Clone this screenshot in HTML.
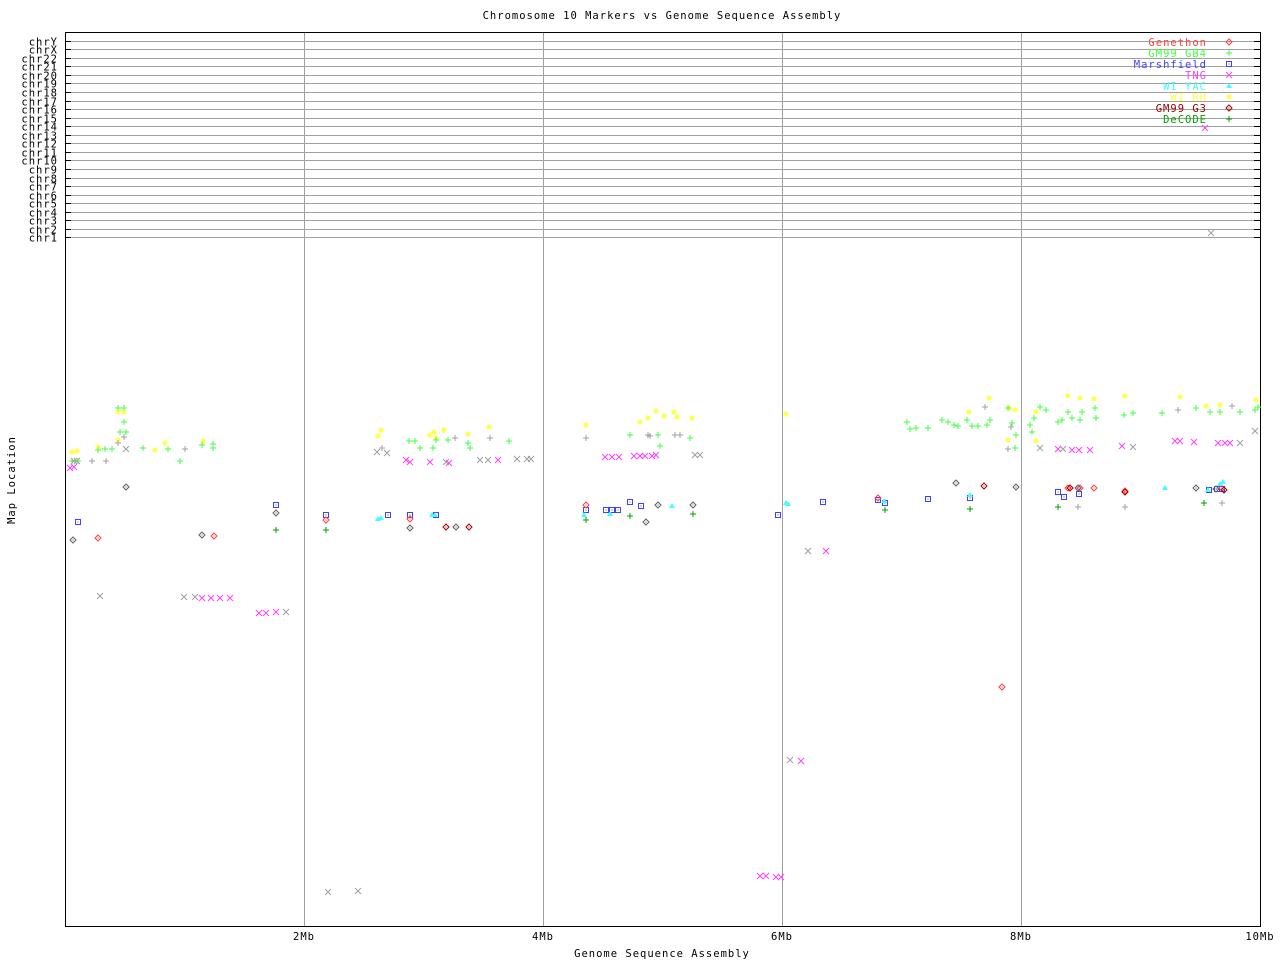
<!DOCTYPE html>
<html><head><meta charset="utf-8"><style>
body{margin:0;background:#fff}
svg{display:block}
text{font-family:"DejaVu Sans Mono","Liberation Mono",monospace;font-size:10.5px;letter-spacing:1px}
</style></head><body>
<svg id="s" width="1280" height="960" xmlns="http://www.w3.org/2000/svg">
<text x="662" y="19" text-anchor="middle">Chromosome 10 Markers vs Genome Sequence Assembly</text>
<text x="662" y="957" text-anchor="middle">Genome Sequence Assembly</text>
<text x="15" y="480" text-anchor="middle" transform="rotate(-90 15 480)">Map Location</text>
<g id="grid" stroke="#a0a0a0" stroke-width="1"></g>
<rect x="65.5" y="32.5" width="1195" height="894" fill="none" stroke="#000"/>
<g id="lab"></g>
<g id="pts"></g>
</svg>
<script>
var NS="http://www.w3.org/2000/svg",S=document.getElementById('s');
function el(t,a,p,txt){var e=document.createElementNS(NS,t);for(var k in a)e.setAttribute(k,a[k]);if(txt)e.textContent=txt;(p||S).appendChild(e);return e;}
var g=document.getElementById('grid'),lab=document.getElementById('lab'),pts=document.getElementById('pts');
var chrs=["chrY","chrX","chr22","chr21","chr20","chr19","chr18","chr17","chr16","chr15","chr14","chr13","chr12","chr11","chr10","chr9","chr8","chr7","chr6","chr5","chr4","chr3","chr2","chr1"];
chrs.forEach(function(c,i){var y=Math.round(40.7+i*8.55)+0.5;
el('line',{x1:65,x2:1260,y1:y,y2:y},g);
el('line',{x1:65,x2:71,y1:y,y2:y,stroke:'#000'},lab);el('line',{x1:1254,x2:1260,y1:y,y2:y,stroke:'#000'},lab);
el('text',{x:58,y:y+4,'text-anchor':'end'},lab,c);});
[304,543,782,1021].forEach(function(x,i){el('line',{x1:x+.5,x2:x+.5,y1:32,y2:926},g);
el('text',{x:x,y:940,'text-anchor':'middle'},lab,(2*(i+1))+'Mb');});
el('text',{x:1260,y:940,'text-anchor':'middle'},lab,'10Mb');
function mk(type,col,x,y){var a={stroke:col,fill:'none','stroke-width':1};
if(type=='+'){el('path',Object.assign(a,{d:'M'+(x-3)+' '+y+'h6M'+x+' '+(y-3)+'v6'}),pts);}
else if(type=='x'){el('path',Object.assign(a,{d:'M'+(x-3)+' '+(y-3)+'l6 6M'+(x-3)+' '+(y+3)+'l6 -6'}),pts);}
else if(type=='s'){el('rect',Object.assign(a,{x:x-2.5,y:y-2.5,width:5,height:5}),pts);el('rect',{x:x-.5,y:y-.5,width:1,height:1,fill:col},pts);}
else if(type=='d'){el('path',Object.assign(a,{d:'M'+x+' '+(y-3)+'l3 3l-3 3l-3 -3z'}),pts);el('rect',{x:x-.5,y:y-.5,width:1,height:1,fill:col},pts);}
else if(type=='t'){el('path',{d:'M'+x+' '+(y-3)+'l3 5h-6z',fill:col},pts);}
else if(type=='*'){el('path',Object.assign(a,{d:'M'+(x-3)+' '+y+'h6M'+x+' '+(y-3)+'v6M'+(x-2)+' '+(y-2)+'l4 4M'+(x-2)+' '+(y+2)+'l4 -4'}),pts);}}
var D=[
['*','#ffff40',[[72,452],[77,451],[98,447],[118,412],[124,412],[118,440],[155,450],[165,443],[203,441],[378,436],[381,430],[430,435],[434,432],[444,430],[436,438],[468,434],[489,427],[586,425],[640,422],[648,418],[656,411],[664,416],[674,412],[677,417],[692,418],[786,414],[969,412],[989,398],[1009,408],[1036,412],[1068,396],[1080,398],[1094,399],[1125,396],[1180,397],[1206,406],[1220,405],[1256,400],[1008,440],[1036,441],[1015,410]]],
['+','#40ff40',[[72,461],[78,461],[98,450],[105,449],[112,449],[120,432],[126,432],[118,408],[124,408],[124,422],[143,448],[168,449],[180,461],[202,445],[213,444],[213,448],[409,441],[415,441],[420,448],[433,448],[436,440],[448,440],[468,443],[470,448],[509,441],[630,435],[658,435],[660,446],[690,438],[907,422],[910,429],[916,428],[928,428],[942,420],[948,422],[954,425],[958,426],[967,420],[972,426],[978,426],[987,425],[990,420],[1008,408],[1012,423],[1015,448],[1016,435],[1030,425],[1034,418],[1032,432],[1040,407],[1046,410],[1058,422],[1062,420],[1068,412],[1072,418],[1080,420],[1082,412],[1095,408],[1096,418],[1124,415],[1133,413],[1162,413],[1196,408],[1210,412],[1220,412],[1240,412],[1255,410],[1258,407]]],
['+','#a0a0a0',[[92,461],[106,461],[118,443],[124,437],[185,449],[382,448],[455,438],[490,438],[586,438],[648,435],[650,436],[675,435],[680,435],[985,407],[1008,449],[1011,427],[1178,410],[1232,406],[1078,507],[1125,507],[1222,503]]],
['x','#a0a0a0',[[77,461],[74,461],[126,449],[377,452],[387,453],[446,462],[480,460],[488,460],[517,459],[527,459],[531,459],[695,455],[700,455],[100,596],[184,597],[195,597],[286,612],[328,892],[358,891],[790,760],[808,551],[1133,447],[1240,443],[1255,431],[1211,233],[1040,448],[1063,449]]],
['x','#ff40ff',[[70,468],[74,467],[406,460],[410,462],[430,462],[449,463],[498,460],[605,457],[612,457],[619,457],[634,456],[640,456],[645,456],[656,455],[652,456],[202,598],[211,598],[220,598],[230,598],[259,613],[266,613],[276,612],[760,876],[766,876],[776,877],[781,877],[801,761],[826,551],[1058,449],[1072,450],[1079,450],[1090,450],[1122,446],[1175,441],[1180,441],[1194,442],[1218,443],[1225,443],[1230,443],[1205,128]]],
['s','#4040ff',[[78,522],[276,505],[326,515],[388,515],[410,515],[436,515],[586,510],[606,510],[612,510],[618,510],[630,502],[641,506],[778,515],[823,502],[878,500],[885,503],[928,499],[970,498],[1058,492],[1064,497],[1079,494],[1209,490],[1222,489],[1217,489]]],
['d','#ff4040',[[98,538],[214,536],[326,520],[410,519],[586,505],[878,498],[1002,687],[1068,488],[1080,488],[1094,488],[1125,491],[1222,488]]],
['d','#a00000',[[446,527],[469,527],[984,486],[1070,488],[1125,492],[1224,490]]],
['d','#606060',[[73,540],[126,487],[202,535],[276,513],[410,528],[456,527],[646,522],[658,505],[693,505],[956,483],[1016,487],[1078,488],[1196,488],[1216,489]]],
['t','#40ffff',[[378,519],[381,518],[432,515],[435,515],[584,515],[610,514],[672,506],[786,503],[788,504],[884,501],[970,495],[1165,488],[1208,490],[1220,484],[1223,482]]],
['+','#00a000',[[276,530],[326,530],[586,520],[630,516],[693,514],[885,510],[970,509],[1058,507],[1204,503]]]
];
D.forEach(function(s){s[2].forEach(function(p){mk(s[0],s[1],p[0],p[1]);});});
var L=[['Genethon','#ff4040','d'],['GM99 GB4','#40ff40','+'],['Marshfield','#4040ff','s'],['TNG','#ff40ff','x'],['WI YAC','#40ffff','t'],['WI RH','#ffff40','*'],['GM99 G3','#a00000','d'],['DeCODE','#00a000','+']];
L.forEach(function(l,i){var y=42+i*11;el('text',{x:1207,y:y+4,'text-anchor':'end',fill:l[1]},lab,l[0]);mk(l[2],l[1],1229,y);});
</script>
</body></html>
